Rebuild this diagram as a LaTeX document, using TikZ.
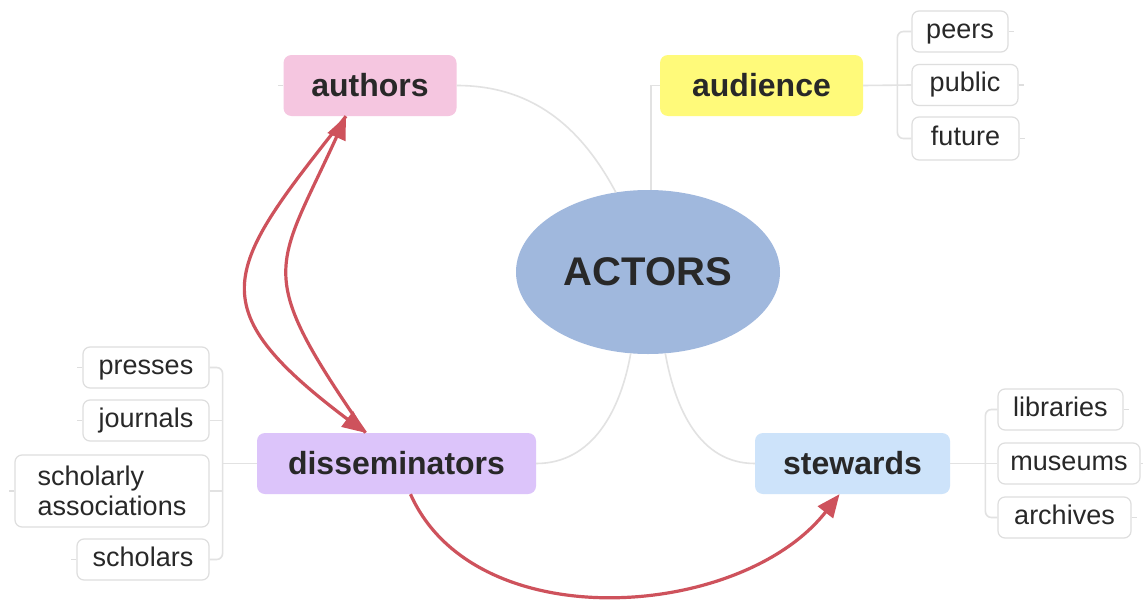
\documentclass[tikz,border=0pt]{standalone}
\usepackage{fontspec}
\setmainfont{Liberation Sans}
\usetikzlibrary{shapes.geometric,arrows.meta}
\definecolor{redarr}{RGB}{206,82,92}
\definecolor{conn}{RGB}{226,226,226}
\definecolor{childline}{RGB}{222,222,222}
\definecolor{textc}{RGB}{40,40,40}
\definecolor{pinkc}{RGB}{245,198,224}
\definecolor{yellowc}{RGB}{255,250,122}
\definecolor{purplec}{RGB}{220,196,250}
\definecolor{bluec}{RGB}{205,227,250}
\definecolor{actc}{RGB}{160,184,221}
\begin{document}
\begin{tikzpicture}[x=1pt,y=1pt,
  mainbox/.style={draw=none, rounded corners=8pt, inner sep=0pt, text=textc,
    minimum height=61pt, font=\fontsize{32}{36}\selectfont\bfseries},
  childbox/.style={draw=childline, fill=white, line width=1.2pt, rounded corners=7pt,
    inner sep=0pt, text=textc, minimum height=41pt, text height=19pt, text depth=6pt,
    font=\fontsize{27}{30}\selectfont},
  link/.style={draw=conn, line width=1.6pt},
  stub/.style={draw=childline, line width=1.2pt},
  relarrow/.style={draw=redarr, line width=3.2pt, -{Triangle[length=23pt,width=19pt]}}]
\useasboundingbox (0,0) rectangle (1143,-605);
\fill[white] (0,0) rectangle (1143,-605);

% main nodes
\node[mainbox, fill=pinkc, minimum width=173pt] (authors) at (370,-85.5) {authors};
\node[mainbox, fill=yellowc, minimum width=203pt] (audience) at (761.5,-85.5) {audience};
\node[ellipse, fill=actc, inner sep=0pt, minimum width=264pt, minimum height=164pt,
  text=textc, font=\fontsize{40}{44}\selectfont\bfseries] (actors) at (648,-272) {ACTORS};
\node[mainbox, fill=purplec, minimum width=279pt] (diss) at (396.5,-463.5) {disseminators};
\node[mainbox, fill=bluec, minimum width=195pt] (stew) at (852.5,-463.5) {stewards};

% children
\node[childbox, minimum width=96pt] (peers) at (960,-31.5) {peers};
\node[childbox, minimum width=106pt] (public) at (965,-85) {public};
\node[childbox, minimum width=107pt, minimum height=43pt] (future) at (965.5,-138.5) {future};

\node[childbox, minimum width=126pt] (presses) at (146,-367.5) {presses};
\node[childbox, minimum width=126pt] (journals) at (146,-420.5) {journals};
\node[childbox, minimum width=194pt, minimum height=72pt, text height=, text depth=, align=left] (scholarly) at (112,-491) {scholarly\\associations};
\node[childbox, minimum width=132pt] (scholars) at (143,-559.5) {scholars};

\node[childbox, minimum width=125pt] (libraries) at (1060.5,-409.5) {libraries};
\node[childbox, minimum width=142pt] (museums) at (1069,-463.5) {museums};
\node[childbox, minimum width=133pt] (archives) at (1064.5,-517.5) {archives};

% connectors from the centre
\draw[link] (authors.east) to[out=0,in=118] (actors.112);
\draw[link] ([xshift=3pt]actors.north) |- (audience.west);
\draw[link] (actors.258) to[out=-100,in=0] (diss.east);
\draw[link] (actors.282) to[out=-80,in=180] (stew.west);

% audience bracket
\coordinate (ab) at ([xshift=-14pt]public.west);
\draw[link] (audience.east) -- (public.west);
\draw[link, rounded corners=6pt] (peers.west) -- (peers.west -| ab) -- (future.west -| ab) -- (future.west);

% disseminators bracket
\coordinate (db) at ([xshift=13pt]presses.east);
\draw[link] (diss.west) -- (diss.west -| db);
\draw[link, rounded corners=6pt] (presses.east) -- (presses.east -| db) -- (scholars.east -| db) -- (scholars.east);
\draw[link] (journals.east) -- (journals.east -| db);
\draw[link] (scholarly.east) -- (scholarly.east -| db);

% stewards bracket
\coordinate (sb) at ([xshift=-12pt]museums.west);
\draw[link] (stew.east) -- (museums.west);
\draw[link, rounded corners=6pt] (libraries.west) -- (libraries.west -| sb) -- (archives.west -| sb) -- (archives.west);

% small stubs
\draw[stub] (authors.west) -- ++(-5,0);
\draw[stub] (peers.east) -- ++(5,0);
\draw[stub] (public.east) -- ++(5,0);
\draw[stub] (future.east) -- ++(5,0);
\draw[stub] (presses.west) -- ++(-5,0);
\draw[stub] (journals.west) -- ++(-5,0);
\draw[stub] (scholarly.west) -- ++(-5,0);
\draw[stub] (scholars.west) -- ++(-5,0);
\draw[stub] (libraries.east) -- ++(5,0);
\draw[stub] (museums.east) -- ++(5,0);
\draw[stub] (archives.east) -- ++(5,0);

% red relations
\coordinate (atip) at ([xshift=-24pt]authors.south);
\coordinate (dtip) at ([xshift=-31pt]diss.north);
\draw[relarrow] (atip) .. controls (225,-269) and (196,-305) .. (dtip);
\draw[relarrow] (dtip) .. controls (253,-270) and (275,-272) .. (atip);
\draw[relarrow] ([xshift=14pt]diss.south) to[out=-66,in=-128,looseness=0.95] ([xshift=-13pt]stew.south);
\end{tikzpicture}
\end{document}
